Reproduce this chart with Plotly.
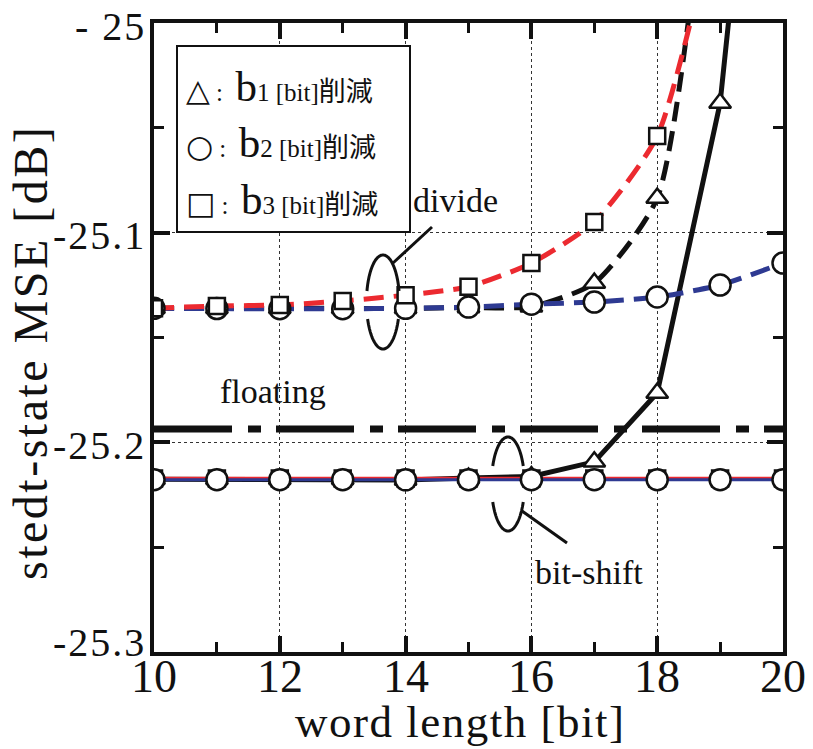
import numpy as np
import plotly.graph_objects as go

# ---- data -------------------------------------------------------------
word_length = [10, 11, 12, 13, 14, 15, 16, 17, 18, 19, 20]

# divide method (dashed)
div_b1 = [-25.1361, -25.1361, -25.1361, -25.1361, -25.1361, -25.1357, -25.1353,
          -25.1240, -25.0835, -24.8700, -24.6000]
div_b2 = [-25.1361, -25.1362, -25.1363, -25.1363, -25.1361, -25.1355, -25.1341,
          -25.1331, -25.1307, -25.1250, -25.1145]
div_b3 = [-25.1360, -25.1350, -25.1345, -25.1326, -25.1298, -25.1258, -25.1145,
          -25.0949, -25.0539, -24.9400, -24.8000]

# bit-shift method (solid)
bs_b1 = [-25.2176, -25.2176, -25.2176, -25.2176, -25.2180, -25.2170, -25.2163,
         -25.2093, -25.1765, -25.0382, -24.7500]
bs_b2 = [-25.2178, -25.2178, -25.2178, -25.2178, -25.2179, -25.2178, -25.2178,
         -25.2178, -25.2178, -25.2178, -25.2178]
bs_b3 = [-25.2172, -25.2172, -25.2172, -25.2172, -25.2173, -25.2172, -25.2172,
         -25.2172, -25.2172, -25.2172, -25.2172]

# floating-point reference level
floating = [-25.1937] * len(word_length)

x_ticks = [10, 12, 14, 16, 18, 20]
x_tick_text = ["10", "12", "14", "16", "18", "20"]
y_ticks = [-25.3, -25.2, -25.1, -25.0]
y_tick_text = ["-25.3", "-25.2", "-25.1", "- 25"]

RED = "#EC2A30"
BLUE = "#2E3A92"
BLACK = "#111111"
SERIF = "Liberation Serif"
CJK = "Noto Sans CJK JP"

# ---- layout geometry helpers (pixel -> paper) -------------------------
W, H = 813, 749
L, R, T, B = 154, 30, 23, 97
PW, PH = W - L - R, H - T - B


def px(x):
    return (x - L) / PW


def py(y):
    return (H - B - y) / PH


fig = go.Figure()

# lines first, markers afterwards so every marker sits above every line
fig.add_trace(go.Scatter(x=word_length, y=floating, mode="lines",
                         line=dict(color=BLACK, width=7, dash="78px,16px,13px,15px")))

fig.add_trace(go.Scatter(x=word_length, y=bs_b1, mode="lines",
                         line=dict(color=BLACK, width=5)))
fig.add_trace(go.Scatter(x=word_length, y=bs_b3, mode="lines",
                         line=dict(color=RED, width=3.5)))
fig.add_trace(go.Scatter(x=word_length, y=bs_b2, mode="lines",
                         line=dict(color=BLUE, width=3)))

fig.add_trace(go.Scatter(x=word_length, y=div_b1, mode="lines",
                         line=dict(color=BLACK, width=5, dash="20px,10px",
                                   shape="spline", smoothing=0.6)))
fig.add_trace(go.Scatter(x=word_length, y=div_b2, mode="lines",
                         line=dict(color=BLUE, width=5, dash="20px,10px",
                                   shape="spline", smoothing=0.6)))
fig.add_trace(go.Scatter(x=word_length, y=div_b3, mode="lines",
                         line=dict(color=RED, width=5, dash="20px,10px",
                                   shape="spline", smoothing=0.6)))

mk_line = dict(color=BLACK, width=2.5)
tri = dict(symbol="triangle-up", size=19, color="white", line=mk_line)
cir = dict(symbol="circle", size=21, color="white", line=mk_line)
sqr = dict(symbol="square", size=16, color="white", line=mk_line)

for ys, m in [(bs_b1, tri), (bs_b3, sqr), (bs_b2, cir),
              (div_b1, tri), (div_b2, cir), (div_b3, sqr)]:
    fig.add_trace(go.Scatter(x=word_length, y=ys, mode="markers", marker=m,
                             cliponaxis=True))

# ---- shapes: legend frame, ellipses, pointers -------------------------
shapes = []
shapes.append(dict(type="rect", xref="paper", yref="paper",
                   x0=px(177), x1=px(410), y0=py(232), y1=py(46),
                   line=dict(color=BLACK, width=2), fillcolor="white",
                   layer="above"))


def ellipse_arcs(cx, cy, rx, ry, gap_top, gap_bot):
    """Two open arcs of an ellipse, leaving gaps where data lines pass."""
    a_top = np.arcsin((gap_top - cy) / ry)
    a_bot = np.arcsin((gap_bot - cy) / ry)
    arcs = [np.linspace(np.pi - a_top, 2 * np.pi + a_top, 60),
            np.linspace(a_bot, np.pi - a_bot, 60)]
    out = []
    for t in arcs:
        xs = cx + rx * np.cos(t)
        ys = cy + ry * np.sin(t)
        path = "M " + " L ".join(f"{px(a):.5f},{py(b):.5f}" for a, b in zip(xs, ys))
        out.append(dict(type="path", xref="paper", yref="paper", path=path,
                        line=dict(color=BLACK, width=3), layer="above"))
    return out


shapes += ellipse_arcs(383, 302, 16.5, 47, 291, 319)
shapes += ellipse_arcs(508, 484, 16.5, 47, 466, 502)
shapes.append(dict(type="line", xref="paper", yref="paper",
                   x0=px(393), y0=py(263), x1=px(432), y1=py(227),
                   line=dict(color=BLACK, width=3), layer="above"))
shapes.append(dict(type="line", xref="paper", yref="paper",
                   x0=px(522), y0=py(511), x1=px(567), y1=py(543),
                   line=dict(color=BLACK, width=3), layer="above"))

# ---- text -------------------------------------------------------------
ann = []
legend_rows = [("△", "1", 86), ("○", "2", 143), ("□", "3", 199)]
for sym, idx, yc in legend_rows:
    txt = (f'<span style="font-family:DejaVu Sans;font-size:31px">{sym}</span>'
           f'&nbsp;:&nbsp;&nbsp;<span style="font-size:43px">b</span>{idx} [bit]'
           f'<span style="font-family:{CJK};font-size:27px">削減</span>')
    ann.append(dict(text=txt, xref="paper", yref="paper", x=px(184), y=py(yc),
                    xanchor="left", yanchor="middle", showarrow=False,
                    font=dict(family=SERIF, size=25, color=BLACK)))

for t, xc, yc in [("divide", 455, 200), ("floating", 273, 391), ("bit-shift", 589, 572)]:
    ann.append(dict(text=t, xref="paper", yref="paper", x=px(xc), y=py(yc),
                    xanchor="center", yanchor="middle", showarrow=False,
                    font=dict(family=SERIF, size=34, color=BLACK)))

# tick labels, placed on the axis scales
for v, t in zip(x_ticks, x_tick_text):
    ann.append(dict(text=t, xref="x", yref="paper", x=v, y=py(676),
                    xanchor="center", yanchor="middle", showarrow=False,
                    font=dict(family=SERIF, size=46, color=BLACK)))
for v, t in zip(y_ticks, y_tick_text):
    shift = 10 if v == min(y_ticks) else -3
    ann.append(dict(text=f'<span style="letter-spacing:2px">{t}</span>',
                    xref="paper", yref="y", x=px(148), y=v, yshift=shift,
                    xanchor="right", yanchor="middle", showarrow=False,
                    font=dict(family=SERIF, size=40, color=BLACK)))

ann.append(dict(text='<span style="letter-spacing:1.5px">word length [bit]</span>',
                xref="paper", yref="paper",
                x=px(460), y=py(722), xanchor="center", yanchor="middle",
                showarrow=False, font=dict(family=SERIF, size=45, color=BLACK)))
ann.append(dict(text='<span style="letter-spacing:2.5px">stedt-state MSE [dB]</span>',
                xref="paper", yref="paper", textangle=-90,
                x=px(30), y=py(353), xanchor="center", yanchor="middle",
                showarrow=False, font=dict(family=SERIF, size=48, color=BLACK)))

axis_common = dict(
    showline=True, linewidth=3.5, linecolor=BLACK, mirror="allticks",
    ticks="inside", ticklen=16, tickwidth=3.5, tickcolor=BLACK,
    showgrid=True, gridcolor="#333333", gridwidth=1, griddash="3px,3px",
    zeroline=False, automargin=False, showticklabels=False,
)

fig.update_layout(
    width=W, height=H,
    margin=dict(l=L, r=R, t=T, b=B),
    paper_bgcolor="white", plot_bgcolor="white",
    showlegend=False,
    shapes=shapes,
    annotations=ann,
    xaxis=dict(range=[10, 20], tickvals=x_ticks,
               minor=dict(dtick=1, ticks="inside", ticklen=10, tickwidth=3,
                          tickcolor=BLACK, showgrid=False),
               **axis_common),
    yaxis=dict(range=[-25.3, -25.0], tickvals=y_ticks,
               minor=dict(dtick=0.05, tick0=-25.3, ticks="inside", ticklen=10,
                          tickwidth=3, tickcolor=BLACK, showgrid=False),
               **axis_common),
)

fig.write_html("out.html")
